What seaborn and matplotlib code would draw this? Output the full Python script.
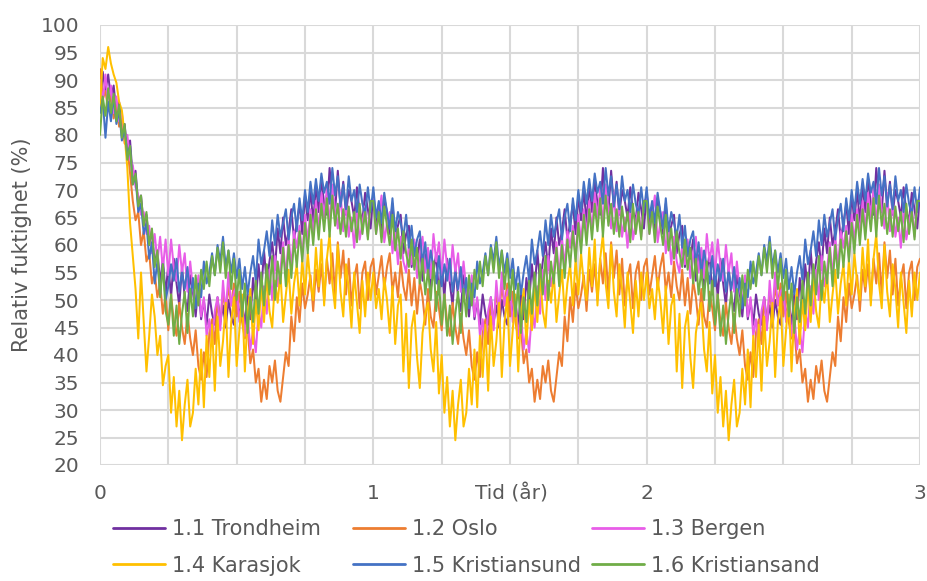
import numpy as np
import pandas as pd
import matplotlib
matplotlib.use("Agg")
import matplotlib.pyplot as plt
from matplotlib.lines import Line2D
import seaborn as sns

# ---------------- data ----------------
stations = ["1.1 Trondheim", "1.2 Oslo", "1.3 Bergen",
            "1.4 Karasjok", "1.5 Kristiansund", "1.6 Kristiansand"]
colors = ["#7030A0", "#ED7D31", "#E85DE8", "#FFC000", "#4472C4", "#70AD47"]
x_ticks = [0, 1, 2, 3]
y_ticks = [20, 25, 30, 35, 40, 45, 50, 55, 60, 65, 70, 75, 80, 85, 90, 95, 100]

# One climate year of relative humidity (%), read every 0.01 year.
# The same year is repeated in year 2 and year 3 of the simulation.
trondheim_year = [
    69.5, 64.0, 67.0, 62.5, 68.5, 66.0, 62.0, 67.5, 61.5, 63.5,
    65.5, 58.5, 62.0, 63.5, 56.0, 60.5, 57.5, 61.0, 53.5, 58.0,
    59.0, 52.0, 55.0, 58.5, 51.0, 56.5, 50.5, 57.5, 53.0, 49.0,
    56.0, 50.5, 48.0, 54.5, 51.5, 47.0, 53.0, 46.5, 50.0, 45.5,
    51.0, 47.5, 45.5, 50.5, 46.0, 49.0, 45.0, 50.0, 47.0, 45.5,
    52.0, 47.0, 49.5, 45.5, 51.0, 46.5, 54.0, 49.5, 56.5, 51.5,
    59.0, 53.0, 57.0, 60.5, 55.5, 63.0, 58.5, 65.0, 60.0, 62.5,
    66.5, 61.0, 64.0, 67.5, 62.0, 69.0, 64.5, 70.0, 64.0, 71.0,
    66.0, 72.0, 67.5, 65.5, 74.0, 68.0, 66.0, 73.5, 67.0, 71.5,
    65.5, 70.0, 68.0, 65.0, 70.5, 66.0, 64.5, 69.5, 66.5, 63.0,
]
oslo_year = [
    57.5, 51.0, 54.5, 58.0, 52.0, 56.0, 58.5, 51.5, 55.0, 50.5,
    57.0, 52.5, 50.0, 55.5, 49.0, 54.0, 47.5, 53.5, 50.5, 45.5,
    52.0, 47.0, 45.0, 51.5, 48.5, 44.5, 51.0, 46.0, 43.5, 49.5,
    45.0, 42.0, 47.5, 43.0, 40.0, 44.5, 38.0, 35.5, 40.5, 36.0,
    44.0, 46.5, 42.0, 50.0, 45.5, 51.5, 47.5, 52.5, 49.0, 53.0,
    47.0, 51.5, 46.0, 43.0, 45.0, 38.5, 41.0, 35.0, 37.5, 31.5,
    35.5, 32.0, 38.0, 35.0, 39.0, 33.5, 31.5, 36.0, 40.5, 38.0,
    47.0, 42.5, 50.5, 46.0, 53.0, 48.5, 51.0, 54.5, 48.0, 55.5,
    51.5, 56.5, 50.0, 57.5, 53.0, 58.5, 51.0, 60.5, 54.0, 59.0,
    51.0, 57.5, 49.0, 54.0, 56.5, 48.5, 55.0, 57.0, 50.0, 56.0,
]
bergen_year = [
    68.5, 62.0, 65.5, 69.0, 60.5, 64.0, 66.0, 58.5, 63.0, 56.5,
    61.5, 57.0, 55.0, 60.0, 56.5, 61.0, 54.0, 58.5, 61.5, 55.0,
    59.5, 54.0, 62.0, 57.0, 60.5, 54.5, 61.0, 56.0, 53.5, 60.0,
    55.0, 58.5, 51.5, 57.0, 52.0, 49.5, 54.5, 47.0, 50.5, 43.5,
    46.5, 42.0, 48.0, 50.5, 44.5, 53.5, 47.5, 55.0, 49.0, 51.5,
    52.5, 46.0, 50.0, 43.5, 47.5, 41.0, 44.5, 40.5, 48.0, 45.0,
    52.5, 47.5, 55.5, 50.0, 58.0, 52.5, 55.5, 60.5, 54.0, 61.5,
    56.0, 62.5, 59.5, 63.5, 57.5, 65.5, 60.5, 66.5, 62.0, 68.0,
    62.5, 69.5, 65.0, 70.5, 63.5, 71.0, 66.5, 63.0, 69.5, 62.5,
    68.0, 61.5, 65.0, 59.5, 66.5, 61.0, 64.0, 67.0, 61.5, 68.0,
]
karasjok_year = [
    55.0, 48.5, 52.0, 46.5, 54.0, 50.0, 44.0, 52.5, 42.0, 49.0,
    51.0, 37.0, 47.5, 34.0, 45.0, 48.0, 39.5, 34.0, 44.0, 47.5,
    49.5, 41.0, 37.0, 46.0, 33.0, 40.0, 29.5, 36.0, 27.0, 33.5,
    24.5, 31.0, 35.5, 27.0, 29.5, 37.5, 31.0, 41.0, 30.5, 43.5,
    36.0, 45.5, 33.5, 47.0, 38.0, 42.5, 49.5, 36.0, 46.0, 50.5,
    38.0, 44.5, 51.0, 37.0, 47.5, 52.0, 42.0, 50.0, 44.5, 53.0,
    46.0, 54.5, 48.0, 45.0, 53.5, 49.5, 55.0, 46.0, 51.0, 55.5,
    47.5, 53.0, 56.5, 49.0, 57.5, 51.0, 58.5, 53.0, 50.0, 59.5,
    52.5, 61.0, 49.0, 57.5, 62.0, 53.0, 48.5, 60.0, 51.5, 47.0,
    56.5, 52.0, 45.0, 55.0, 49.5, 44.0, 53.5, 47.0, 55.0, 50.0,
]
kristiansund_year = [
    70.5, 65.0, 68.0, 64.0, 69.5, 66.0, 63.0, 68.5, 62.5, 66.0,
    64.0, 61.5, 65.5, 59.5, 63.5, 58.0, 61.0, 62.5, 56.5, 60.5,
    54.5, 59.0, 56.0, 53.0, 58.0, 52.5, 56.5, 53.5, 57.5, 51.5,
    55.0, 52.0, 56.0, 50.0, 54.0, 48.5, 53.0, 50.5, 57.0, 53.0,
    55.0, 58.5, 54.5, 60.0, 57.0, 61.5, 56.0, 59.0, 55.0, 58.5,
    54.0, 57.5, 52.0, 56.0, 51.0, 55.0, 58.0, 53.5, 61.0, 56.5,
    59.0, 62.5, 58.0, 64.5, 60.0, 65.5, 61.5, 64.0, 66.5, 61.0,
    65.0, 67.5, 62.5, 68.5, 64.5, 70.0, 66.0, 71.5, 67.5, 72.0,
    68.0, 73.0, 69.5, 71.5, 67.5, 74.0, 69.0, 72.5, 67.0, 71.0,
    66.5, 72.5, 68.0, 70.0, 66.0, 71.0, 67.5, 65.5, 70.5, 66.0,
]
kristiansand_year = [
    68.0, 62.0, 66.0, 60.5, 67.0, 63.5, 60.0, 65.5, 59.0, 63.0,
    57.5, 62.5, 58.5, 56.0, 61.0, 55.5, 59.5, 53.0, 57.5, 51.0,
    55.5, 50.0, 57.0, 48.0, 53.5, 45.5, 51.0, 43.5, 49.0, 42.0,
    47.5, 51.5, 44.0, 52.0, 47.0, 54.5, 49.0, 55.5, 52.0, 57.0,
    52.5, 58.0, 54.5, 59.5, 55.0, 60.5, 54.0, 59.0, 52.0, 57.5,
    50.0, 55.5, 47.0, 53.0, 44.0, 50.5, 46.0, 53.5, 47.5, 55.0,
    49.0, 56.5, 51.0, 58.0, 50.0, 57.0, 53.0, 59.5, 52.5, 60.0,
    54.0, 61.0, 56.0, 62.5, 57.0, 64.0, 58.5, 65.5, 60.0, 66.5,
    61.0, 67.5, 62.5, 68.5, 61.5, 69.0, 63.5, 67.5, 62.0, 66.5,
    61.5, 67.0, 62.5, 66.0, 60.5, 67.5, 62.0, 66.0, 61.0, 68.0,
]

# First quarter of year 1 (initial moisture drying out), every 0.01 year
trondheim_start = [85.0, 91.5, 88.0, 91.0, 86.5, 89.0, 84.0, 86.0, 80.5, 82.0,
                   77.0, 79.0, 72.0, 73.5, 67.5, 69.0, 63.5, 65.5, 60.0, 62.5,
                   56.5, 59.0, 53.0, 57.5, 51.0]
oslo_start = [92.0, 86.5, 88.0, 84.5, 87.5, 83.0, 85.5, 81.5, 83.0, 78.5,
              78.0, 73.0, 68.0, 64.5, 66.0, 60.0, 62.5, 57.0, 58.5, 53.0,
              55.0, 50.5, 53.0, 47.5, 51.0]
bergen_start = [90.0, 86.0, 91.0, 85.5, 89.0, 84.0, 87.0, 82.5, 84.0, 79.5,
                80.0, 75.5, 74.5, 70.5, 69.0, 65.5, 66.0, 62.0, 63.5, 58.5,
                62.0, 57.0, 61.5, 55.5, 61.0]
karasjok_start = [85.0, 94.0, 92.0, 96.0, 93.0, 91.0, 89.5, 86.0, 84.5, 80.0,
                  74.0, 64.0, 58.0, 52.0, 43.0, 55.0, 46.0, 37.0, 43.5, 51.0,
                  47.0, 40.0, 43.5, 34.5, 38.0]
kristiansund_start = [84.0, 86.5, 79.5, 86.0, 82.5, 87.0, 82.0, 84.5, 79.0, 81.0,
                      76.5, 78.0, 71.0, 72.5, 66.0, 67.5, 62.0, 64.0, 57.5, 60.5,
                      53.0, 57.0, 51.0, 56.5, 50.0]
kristiansand_start = [80.0, 87.0, 83.5, 88.5, 84.0, 87.5, 82.5, 85.5, 79.5, 82.0,
                      75.5, 78.0, 71.0, 73.0, 67.0, 69.0, 63.5, 66.0, 60.0, 63.0,
                      56.0, 59.0, 50.5, 56.5, 48.0]

years = [trondheim_year, oslo_year, bergen_year, karasjok_year,
         kristiansund_year, kristiansand_year]
starts = [trondheim_start, oslo_start, bergen_start, karasjok_start,
          kristiansund_start, kristiansand_start]

# ---------------- build long table ----------------
frames = []
for name, yr, st in zip(stations, years, starts):
    values = st + yr[len(st):] + yr + yr + yr[:1]
    t = np.arange(len(values)) / 100.0
    frames.append(pd.DataFrame({"Tid": t, "RF": values, "Stasjon": name}))
df = pd.concat(frames, ignore_index=True)

# ---------------- plot ----------------
sns.set_style("white")
plt.rcParams["font.family"] = ["DejaVu Sans"]
text_color = "#595959"
grid_color = "#D9D9D9"

fig = plt.figure(figsize=(9.28, 5.81), dpi=100)
ax = fig.add_axes([100 / 928, 1 - 465 / 581, 820 / 928, 440 / 581])

sns.lineplot(data=df, x="Tid", y="RF", hue="Stasjon", hue_order=stations,
             palette=colors, estimator=None, sort=False, linewidth=1.45,
             legend=False, ax=ax)

ax.set_xlim(0, 3)
ax.set_ylim(20, 100)
ax.set_xticks(x_ticks)
ax.set_xticks(np.arange(0, 3.001, 0.25), minor=True)
ax.set_yticks(y_ticks)
ax.set_xticklabels([str(v) for v in x_ticks])
ax.set_yticklabels([str(v) for v in y_ticks])

ax.grid(True, axis="x", which="both", color=grid_color, linewidth=1.5)
ax.grid(True, axis="y", which="major", color=grid_color, linewidth=1.5)
ax.set_axisbelow(True)
for s in ax.spines.values():
    s.set_visible(False)

ax.tick_params(axis="x", which="both", length=4, width=1.5, color=grid_color,
               labelsize=14.5, labelcolor=text_color, pad=10)
ax.tick_params(axis="y", which="both", length=0, labelsize=14.5,
               labelcolor=text_color, pad=15)

ax.set_xlabel("Tid (år)", fontsize=14.5, color=text_color)
ax.xaxis.set_label_coords(0.502, -(494 - 465) / 440)
ax.xaxis.label.set_verticalalignment("center")
ax.set_ylabel("Relativ fuktighet (%)", fontsize=15, color=text_color)
ax.yaxis.set_label_coords((22 - 100) / 820, 0.5)
ax.yaxis.label.set_verticalalignment("center")

handles = [Line2D([], [], color=c, linewidth=2) for c in colors]
col_x = [113, 353, 592]
for col in range(3):
    fig.legend(handles=[handles[col], handles[col + 3]],
               labels=[stations[col], stations[col + 3]],
               loc="upper left", bbox_to_anchor=(col_x[col] / 928, 1 - 519 / 581),
               frameon=False, borderpad=0, borderaxespad=0,
               handlelength=2.5, handletextpad=0.34, labelspacing=0.8,
               fontsize=15, labelcolor=text_color)

fig.savefig("out.png", dpi=100)
